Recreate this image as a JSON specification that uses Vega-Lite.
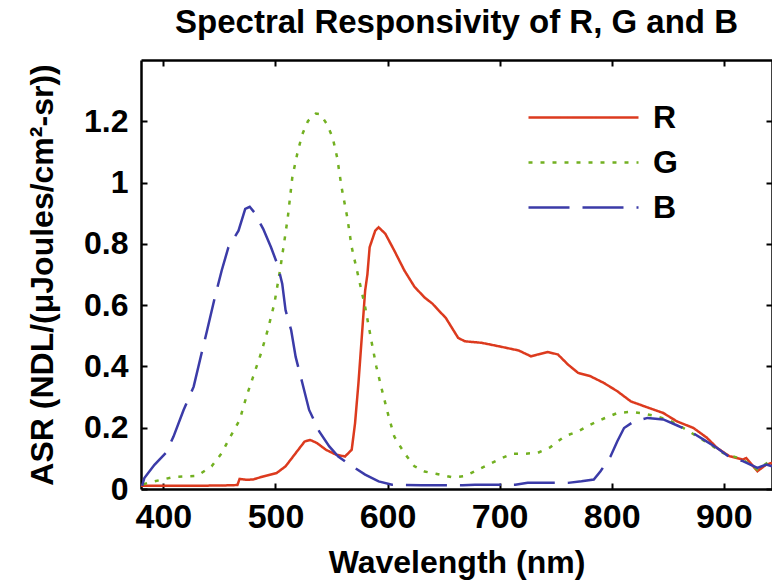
{
  "$schema": "https://vega.github.io/schema/vega-lite/v6.json",
  "width": 631,
  "height": 429,
  "autosize": {"type": "none"},
  "padding": {"left": 141, "top": 60, "right": 0, "bottom": 95},
  "background": "white",
  "title": {
    "text": "Spectral Responsivity of R, G and B",
    "font": "Liberation Sans",
    "fontSize": 33,
    "fontWeight": "bold",
    "color": "black",
    "anchor": "middle",
    "offset": 19
  },
  "config": {
    "view": {"stroke": null},
    "axis": {
      "grid": false,
      "domainColor": "black",
      "domainWidth": 2.5,
      "tickColor": "black",
      "tickWidth": 2,
      "labelColor": "black",
      "titleColor": "black",
      "labelFont": "Liberation Sans",
      "titleFont": "Liberation Sans",
      "labelFontWeight": "bold",
      "titleFontWeight": "bold",
      "labelFontSize": 32,
      "titleFontSize": 32
    }
  },
  "data": {
    "values": [
      {"wl": 380, "v": 0.011, "s": "R"}, {"wl": 400, "v": 0.011, "s": "R"}, {"wl": 420, "v": 0.011, "s": "R"}, {"wl": 440, "v": 0.011, "s": "R"}, {"wl": 460, "v": 0.012, "s": "R"}, {"wl": 466, "v": 0.013, "s": "R"}, {"wl": 468, "v": 0.033, "s": "R"}, {"wl": 474, "v": 0.03, "s": "R"}, {"wl": 480, "v": 0.031, "s": "R"}, {"wl": 489, "v": 0.041, "s": "R"}, {"wl": 501, "v": 0.052, "s": "R"}, {"wl": 509, "v": 0.074, "s": "R"}, {"wl": 518, "v": 0.117, "s": "R"}, {"wl": 526, "v": 0.155, "s": "R"}, {"wl": 531, "v": 0.16, "s": "R"}, {"wl": 537, "v": 0.15, "s": "R"}, {"wl": 545, "v": 0.128, "s": "R"}, {"wl": 554, "v": 0.112, "s": "R"}, {"wl": 562, "v": 0.106, "s": "R"}, {"wl": 568, "v": 0.128, "s": "R"}, {"wl": 571, "v": 0.215, "s": "R"}, {"wl": 574, "v": 0.345, "s": "R"}, {"wl": 577, "v": 0.496, "s": "R"}, {"wl": 580, "v": 0.648, "s": "R"}, {"wl": 582, "v": 0.7, "s": "R"}, {"wl": 584, "v": 0.789, "s": "R"}, {"wl": 589, "v": 0.843, "s": "R"}, {"wl": 592, "v": 0.854, "s": "R"}, {"wl": 598, "v": 0.833, "s": "R"}, {"wl": 606, "v": 0.778, "s": "R"}, {"wl": 615, "v": 0.713, "s": "R"}, {"wl": 624, "v": 0.66, "s": "R"}, {"wl": 633, "v": 0.625, "s": "R"}, {"wl": 640, "v": 0.605, "s": "R"}, {"wl": 645, "v": 0.585, "s": "R"}, {"wl": 652, "v": 0.558, "s": "R"}, {"wl": 663, "v": 0.493, "s": "R"}, {"wl": 669, "v": 0.482, "s": "R"}, {"wl": 684, "v": 0.477, "s": "R"}, {"wl": 699, "v": 0.466, "s": "R"}, {"wl": 717, "v": 0.452, "s": "R"}, {"wl": 728, "v": 0.433, "s": "R"}, {"wl": 734, "v": 0.439, "s": "R"}, {"wl": 743, "v": 0.447, "s": "R"}, {"wl": 752, "v": 0.439, "s": "R"}, {"wl": 761, "v": 0.406, "s": "R"}, {"wl": 770, "v": 0.379, "s": "R"}, {"wl": 781, "v": 0.368, "s": "R"}, {"wl": 793, "v": 0.346, "s": "R"}, {"wl": 805, "v": 0.319, "s": "R"}, {"wl": 817, "v": 0.286, "s": "R"}, {"wl": 829, "v": 0.27, "s": "R"}, {"wl": 846, "v": 0.248, "s": "R"}, {"wl": 858, "v": 0.221, "s": "R"}, {"wl": 873, "v": 0.199, "s": "R"}, {"wl": 885, "v": 0.167, "s": "R"}, {"wl": 894, "v": 0.134, "s": "R"}, {"wl": 905, "v": 0.107, "s": "R"}, {"wl": 917, "v": 0.096, "s": "R"}, {"wl": 920, "v": 0.101, "s": "R"}, {"wl": 930, "v": 0.058, "s": "R"}, {"wl": 938, "v": 0.08, "s": "R"}, {"wl": 943, "v": 0.085, "s": "R"},

      {"wl": 382, "v": 0.015, "s": "G"}, {"wl": 386, "v": 0.02, "s": "G"}, {"wl": 398, "v": 0.03, "s": "G"}, {"wl": 409, "v": 0.039, "s": "G"}, {"wl": 430, "v": 0.043, "s": "G"}, {"wl": 443, "v": 0.074, "s": "G"}, {"wl": 452, "v": 0.117, "s": "G"}, {"wl": 459, "v": 0.166, "s": "G"}, {"wl": 468, "v": 0.225, "s": "G"}, {"wl": 474, "v": 0.301, "s": "G"}, {"wl": 480, "v": 0.366, "s": "G"}, {"wl": 487, "v": 0.442, "s": "G"}, {"wl": 493, "v": 0.518, "s": "G"}, {"wl": 499, "v": 0.605, "s": "G"}, {"wl": 504, "v": 0.713, "s": "G"}, {"wl": 508, "v": 0.811, "s": "G"}, {"wl": 511, "v": 0.887, "s": "G"}, {"wl": 515, "v": 1.017, "s": "G"}, {"wl": 520, "v": 1.104, "s": "G"}, {"wl": 524, "v": 1.158, "s": "G"}, {"wl": 529, "v": 1.201, "s": "G"}, {"wl": 536, "v": 1.225, "s": "G"}, {"wl": 540, "v": 1.223, "s": "G"}, {"wl": 546, "v": 1.19, "s": "G"}, {"wl": 551, "v": 1.147, "s": "G"}, {"wl": 555, "v": 1.082, "s": "G"}, {"wl": 559, "v": 0.984, "s": "G"}, {"wl": 564, "v": 0.887, "s": "G"}, {"wl": 568, "v": 0.789, "s": "G"}, {"wl": 574, "v": 0.692, "s": "G"}, {"wl": 580, "v": 0.594, "s": "G"}, {"wl": 586, "v": 0.475, "s": "G"}, {"wl": 590, "v": 0.399, "s": "G"}, {"wl": 595, "v": 0.323, "s": "G"}, {"wl": 601, "v": 0.236, "s": "G"}, {"wl": 606, "v": 0.171, "s": "G"}, {"wl": 615, "v": 0.117, "s": "G"}, {"wl": 624, "v": 0.074, "s": "G"}, {"wl": 633, "v": 0.057, "s": "G"}, {"wl": 643, "v": 0.05, "s": "G"}, {"wl": 658, "v": 0.038, "s": "G"}, {"wl": 669, "v": 0.042, "s": "G"}, {"wl": 684, "v": 0.069, "s": "G"}, {"wl": 699, "v": 0.096, "s": "G"}, {"wl": 711, "v": 0.115, "s": "G"}, {"wl": 722, "v": 0.115, "s": "G"}, {"wl": 734, "v": 0.118, "s": "G"}, {"wl": 745, "v": 0.136, "s": "G"}, {"wl": 758, "v": 0.172, "s": "G"}, {"wl": 770, "v": 0.188, "s": "G"}, {"wl": 781, "v": 0.21, "s": "G"}, {"wl": 793, "v": 0.23, "s": "G"}, {"wl": 805, "v": 0.248, "s": "G"}, {"wl": 817, "v": 0.252, "s": "G"}, {"wl": 829, "v": 0.246, "s": "G"}, {"wl": 840, "v": 0.237, "s": "G"}, {"wl": 852, "v": 0.223, "s": "G"}, {"wl": 864, "v": 0.199, "s": "G"}, {"wl": 876, "v": 0.172, "s": "G"}, {"wl": 888, "v": 0.145, "s": "G"}, {"wl": 899, "v": 0.118, "s": "G"}, {"wl": 917, "v": 0.096, "s": "G"}, {"wl": 930, "v": 0.063, "s": "G"}, {"wl": 943, "v": 0.096, "s": "G"},

      {"wl": 381, "v": 0.01, "s": "B"}, {"wl": 383, "v": 0.036, "s": "B"}, {"wl": 392, "v": 0.079, "s": "B"}, {"wl": 402, "v": 0.117, "s": "B"}, {"wl": 409, "v": 0.171, "s": "B"}, {"wl": 418, "v": 0.258, "s": "B"}, {"wl": 427, "v": 0.334, "s": "B"}, {"wl": 434, "v": 0.442, "s": "B"}, {"wl": 439, "v": 0.518, "s": "B"}, {"wl": 446, "v": 0.627, "s": "B"}, {"wl": 452, "v": 0.713, "s": "B"}, {"wl": 458, "v": 0.789, "s": "B"}, {"wl": 467, "v": 0.843, "s": "B"}, {"wl": 473, "v": 0.914, "s": "B"}, {"wl": 477, "v": 0.921, "s": "B"}, {"wl": 481, "v": 0.903, "s": "B"}, {"wl": 489, "v": 0.849, "s": "B"}, {"wl": 496, "v": 0.789, "s": "B"}, {"wl": 502, "v": 0.73, "s": "B"}, {"wl": 506, "v": 0.67, "s": "B"}, {"wl": 509, "v": 0.583, "s": "B"}, {"wl": 514, "v": 0.518, "s": "B"}, {"wl": 518, "v": 0.431, "s": "B"}, {"wl": 524, "v": 0.345, "s": "B"}, {"wl": 530, "v": 0.258, "s": "B"}, {"wl": 539, "v": 0.188, "s": "B"}, {"wl": 548, "v": 0.139, "s": "B"}, {"wl": 556, "v": 0.106, "s": "B"}, {"wl": 564, "v": 0.085, "s": "B"}, {"wl": 580, "v": 0.047, "s": "B"}, {"wl": 592, "v": 0.025, "s": "B"}, {"wl": 604, "v": 0.014, "s": "B"}, {"wl": 630, "v": 0.012, "s": "B"}, {"wl": 667, "v": 0.012, "s": "B"}, {"wl": 678, "v": 0.014, "s": "B"}, {"wl": 714, "v": 0.014, "s": "B"}, {"wl": 725, "v": 0.02, "s": "B"}, {"wl": 761, "v": 0.02, "s": "B"}, {"wl": 773, "v": 0.025, "s": "B"}, {"wl": 784, "v": 0.031, "s": "B"}, {"wl": 790, "v": 0.058, "s": "B"}, {"wl": 799, "v": 0.107, "s": "B"}, {"wl": 805, "v": 0.156, "s": "B"}, {"wl": 811, "v": 0.199, "s": "B"}, {"wl": 820, "v": 0.221, "s": "B"}, {"wl": 832, "v": 0.232, "s": "B"}, {"wl": 846, "v": 0.227, "s": "B"}, {"wl": 858, "v": 0.208, "s": "B"}, {"wl": 870, "v": 0.188, "s": "B"}, {"wl": 882, "v": 0.161, "s": "B"}, {"wl": 894, "v": 0.134, "s": "B"}, {"wl": 905, "v": 0.104, "s": "B"}, {"wl": 917, "v": 0.091, "s": "B"}, {"wl": 930, "v": 0.069, "s": "B"}, {"wl": 938, "v": 0.08, "s": "B"}, {"wl": 943, "v": 0.074, "s": "B"}
    ]
  },
  "layer": [
    {
      "mark": {"type": "line", "strokeWidth": 2.5, "clip": true},
      "encoding": {
        "x": {
          "field": "wl", "type": "quantitative",
          "scale": {"domain": [380, 943], "nice": false, "zero": false},
          "axis": {
            "orient": "bottom", "values": [400, 500, 600, 700, 800, 900],
            "tickSize": -6, "labelPadding": 17, "labelFontSize": 34,
            "title": "Wavelength (nm)", "titlePadding": 13
          }
        },
        "y": {
          "field": "v", "type": "quantitative",
          "scale": {"domain": [0, 1.4], "nice": false},
          "axis": {
            "orient": "left", "values": [0, 0.2, 0.4, 0.6, 0.8, 1, 1.2],
            "format": "~g",
            "tickSize": -6, "labelPadding": 19,
            "title": "ASR (NDL/(μJoules/cm²-sr))", "titlePadding": 24
          }
        },
        "color": {
          "field": "s", "type": "nominal",
          "scale": {"domain": ["R", "G", "B"], "range": ["#dc3a1e", "#72b021", "#3b3ba8"]},
          "legend": {
            "orient": "none", "legendX": 386, "legendY": 35, "title": null,
            "symbolType": "stroke", "symbolSize": 12100, "symbolStrokeWidth": 2.5,
            "clipHeight": 45, "rowPadding": 0, "padding": 0,
            "labelFontSize": 32, "labelFontWeight": "bold", "labelFont": "Liberation Sans",
            "labelColor": "black", "labelOffset": 13
          }
        },
        "strokeDash": {
          "field": "s", "type": "nominal",
          "scale": {"domain": ["R", "G", "B"], "range": [[1, 0], [4, 8], [41, 13]]},
          "legend": {
            "orient": "none", "legendX": 386, "legendY": 35, "title": null,
            "symbolType": "stroke", "symbolSize": 12100, "symbolStrokeWidth": 2.5,
            "clipHeight": 45, "rowPadding": 0, "padding": 0,
            "labelFontSize": 32, "labelFontWeight": "bold", "labelFont": "Liberation Sans",
            "labelColor": "black", "labelOffset": 13
          }
        }
      }
    },
    {
      "mark": {"type": "point", "opacity": 0},
      "encoding": {
        "x": {
          "field": "wl", "type": "quantitative",
          "scale": {"domain": [380, 943], "nice": false, "zero": false},
          "axis": {"orient": "top", "values": [400, 500, 600, 700, 800, 900], "tickSize": -6, "labels": false, "title": null}
        },
        "y": {
          "field": "v", "type": "quantitative",
          "scale": {"domain": [0, 1.4], "nice": false},
          "axis": {"orient": "right", "values": [0, 0.2, 0.4, 0.6, 0.8, 1, 1.2], "tickSize": -6, "labels": false, "title": null}
        }
      }
    }
  ],
  "resolve": {"axis": {"x": "independent", "y": "independent"}}
}
